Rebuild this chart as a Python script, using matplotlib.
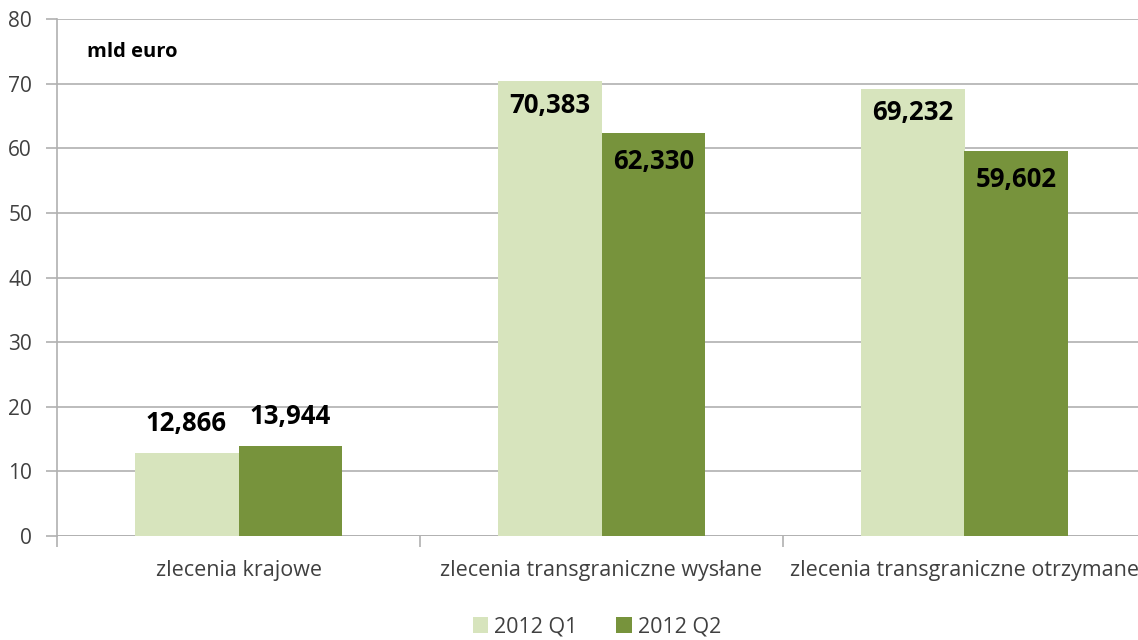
import numpy as np
import matplotlib.pyplot as plt
from matplotlib.patches import Patch

# dane
kategorie = ["zlecenia krajowe", "zlecenia transgraniczne wysłane",
             "zlecenia transgraniczne otrzymane"]
q1 = [12.866, 70.383, 69.232]
q2 = [13.944, 62.330, 59.602]
serie = ["2012 Q1", "2012 Q2"]

kol_q1 = "#d7e4bd"
kol_q2 = "#77933c"
szary = "#b0b0b0"

plt.rcParams["font.family"] = ["Open Sans", "DejaVu Sans"]

W, H = 1138, 640
fig = plt.figure(figsize=(W / 100, H / 100), dpi=100)
# obszar wykresu: x 57..1146 px, y 19..536 px
ax = fig.add_axes([57 / W, (H - 536) / H, (1146 - 57) / W, (536 - 19) / H])

x = np.arange(len(kategorie))
szer = 0.286
ax.bar(x - szer / 2, q1, szer, color=kol_q1, zorder=2)
ax.bar(x + szer / 2, q2, szer, color=kol_q2, zorder=2)

ax.set_xlim(-0.5, 2.5)
ax.set_ylim(0, 80)
ax.set_yticks(range(0, 81, 10))
ax.yaxis.grid(True, color=szary, linewidth=1.2, zorder=0)
ax.set_axisbelow(True)

for s in ["top", "right", "bottom"]:
    ax.spines[s].set_visible(False)
ax.spines["left"].set_color(szary)
ax.spines["left"].set_linewidth(1.2)
ax.axhline(0, color=szary, linewidth=1.2, zorder=1)

ax.set_xticks([-0.5, 0.5, 1.5, 2.5], minor=False)
ax.set_xticklabels([])
ax.set_xticks(x, minor=True)
ax.set_xticklabels(kategorie, minor=True)
ax.tick_params(axis="x", which="major", length=8, color=szary, width=1.2)
ax.tick_params(axis="x", which="minor", length=0, pad=17, labelsize=15.5,
               labelcolor="#404040")
ax.tick_params(axis="y", length=8, color=szary, width=1.2, labelsize=15,
               labelcolor="#404040", pad=10)

def fmt(v):
    return f"{v:.3f}".replace(".", ",")

# etykiety wartości
for i in range(len(kategorie)):
    if q1[i] < 20:
        y1, y2 = q1[i] + 4.6, q2[i] + 4.6
    else:
        y1, y2 = q1[i] - 3.7, q2[i] - 4.4
    ax.text(x[i] - szer / 2, y1, fmt(q1[i]), ha="center", va="center",
            fontsize=18.5, fontweight="bold", color="black")
    ax.text(x[i] + szer / 2, y2, fmt(q2[i]), ha="center", va="center",
            fontsize=18.5, fontweight="bold", color="black")

ax.text(0.0275, 0.936, "mld euro", transform=ax.transAxes, ha="left", va="center",
        fontsize=14.5, fontweight="bold", color="black")

uchwyty = [Patch(facecolor=kol_q1), Patch(facecolor=kol_q2)]
fig.legend(uchwyty, serie, loc="center", bbox_to_anchor=(597 / W, 1 - 627 / H),
           ncol=2, frameon=False, fontsize=15.5, handlelength=0.7,
           handleheight=0.7, handletextpad=0.3, columnspacing=1.8,
           labelcolor="#404040")

fig.savefig("out.png", dpi=100)
